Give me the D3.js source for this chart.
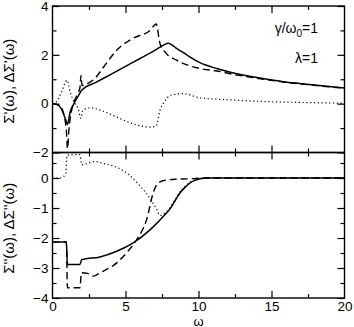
<!DOCTYPE html>
<html><head><meta charset="utf-8">
<script src="https://cdn.jsdelivr.net/npm/d3@7"></script>
<style>
body{margin:0;background:#fff;}
svg{display:block;font-family:"Liberation Sans",Arial,sans-serif;}
</style></head>
<body><svg id="c" width="354" height="327"></svg>
<script>
// ---- data ----
const xTicksMajor = [0, 5, 10, 15, 20];
const xTicksMinor = [2.5, 7.5, 12.5, 17.5];
const topTicksMajor = [-2, 0, 2, 4];
const topTicksMinor = [-1, 1, 3];
const botTicksMajor = [-4, -3, -2, -1, 0];
const botTicksMinor = [-3.5, -2.5, -1.5, -0.5, 0.5];

// top panel: Σ'(ω) solid, Σ'(ω) dashed, ΔΣ'(ω) dotted  [ω, value]
const reSolid = [[0,0],[0.38,-0.05],[0.65,-0.27],[0.92,-0.68],[1.03,-0.85],[1.2,-0.36],[1.47,0.0],[1.75,0.3],[2.0,0.55],[3,0.88],[4,1.2],[5,1.53],[6,1.85],[7,2.18],[7.6,2.4],[7.93,2.47],[8.2,2.4],[8.5,2.26],[9,2.08],[9.4,1.92],[10.1,1.68],[11.25,1.44],[12.4,1.26],[13.5,1.12],[14.7,1.0],[15.8,0.9],[17,0.82],[18.1,0.75],[20,0.64]];
const reDashed = [[0,0],[0.4,-0.05],[0.65,-0.2],[0.8,-0.5],[0.95,-1.1],[1.03,-1.84],[1.12,-1.1],[1.3,-0.3],[1.5,0.1],[1.75,0.45],[1.88,0.65],[1.95,1.16],[2.02,0.74],[2.3,0.8],[2.9,1.03],[3.5,1.5],[4.4,2.19],[5.5,2.67],[6.7,3.01],[7.1,3.26],[7.36,2.47],[7.7,2.12],[8.5,1.78],[10.1,1.44],[11.25,1.34],[12.4,1.2],[13.5,1.09],[14.7,0.98],[15.8,0.89],[17,0.81],[18.1,0.74],[20,0.63]];
const reDotted = [[0,0],[0.3,0.1],[0.6,0.45],[1.0,0.96],[1.2,0.5],[1.5,0.05],[1.75,-0.2],[1.95,-0.6],[2.05,-0.3],[2.3,-0.2],[2.6,-0.17],[3.2,-0.25],[4.4,-0.55],[5.5,-0.82],[6.7,-0.96],[7.1,-0.92],[7.36,-0.27],[7.7,0.1],[8.05,0.34],[8.96,0.41],[10.1,0.24],[12,0.16],[14,0.1],[17,0.05],[20,0.02]];

// bottom panel: Σ''(ω) solid, Σ''(ω) dashed, ΔΣ''(ω) dotted
const imSolid = [[0,-2.13],[0.95,-2.13],[1.02,-2.88],[1.88,-2.88],[2.0,-2.72],[3.25,-2.63],[4.4,-2.44],[5.53,-2.16],[6.7,-1.72],[7.82,-1.16],[8.05,-1.03],[8.4,-0.75],[8.73,-0.5],[9.1,-0.3],[9.42,-0.16],[9.8,-0.07],[10.2,-0.02],[10.6,0],[20,0]];
const imDashed = [[0,-2.13],[0.95,-2.13],[1.02,-3.66],[1.88,-3.66],[1.98,-3.16],[2.4,-3.18],[2.8,-3.27],[3.25,-3.16],[4.4,-2.83],[5.08,-2.49],[5.77,-2.05],[6.45,-1.38],[6.9,-0.49],[7.14,-0.22],[7.4,-0.12],[7.8,-0.07],[8.5,-0.04],[9.2,-0.03],[10,-0.01],[10.5,0],[20,0]];
const imDotted = [[0,0],[0.5,0],[0.9,0.12],[1.0,0.76],[1.88,0.78],[2.0,0.44],[2.9,0.55],[3.5,0.48],[4.4,0.36],[5.3,0.08],[6.0,-0.27],[6.68,-0.68],[7.14,-1.05],[7.36,-1.25],[7.6,-1.2],[7.82,-1.12],[8.4,-0.72],[8.73,-0.46],[9.1,-0.27],[9.42,-0.14],[10,-0.02],[10.5,0],[20,0]];

// ---- drawing ----
const svg = d3.select("#c");
const L = 52.5, R = 344.5, T = 6, M = 152.5, B = 298;
const x = d3.scaleLinear().domain([0, 20]).range([L, R]);
const yTop = d3.scaleLinear().domain([-2, 4]).range([M, T]);
const yBot = d3.scaleLinear().domain([-4, 0.85]).range([B, M]);
const FS = 13.5, MAJ = 7, MIN = 4;

function styleAxis(g){
  g.select(".domain").remove();
  g.selectAll(".tick line").attr("stroke","#000").attr("stroke-width",1.2);
  g.selectAll(".tick text").attr("font-size",FS).attr("fill","#000").attr("font-family","Liberation Sans, Arial, sans-serif");
}
function axes(y, major, minor, yTopPx, yBotPx, showX){
  svg.append("g").attr("transform",`translate(${L},0)`).call(d3.axisLeft(y).tickValues(major).tickSize(-MAJ).tickPadding(4).tickFormat(d3.format("d"))).call(styleAxis);
  svg.append("g").attr("transform",`translate(${L},0)`).call(d3.axisLeft(y).tickValues(minor).tickSize(-MIN).tickFormat("")).call(styleAxis);
  svg.append("g").attr("transform",`translate(${R},0)`).call(d3.axisRight(y).tickValues(major).tickSize(-MAJ).tickFormat("")).call(styleAxis);
  svg.append("g").attr("transform",`translate(${R},0)`).call(d3.axisRight(y).tickValues(minor).tickSize(-MIN).tickFormat("")).call(styleAxis);
  svg.append("g").attr("transform",`translate(0,${yTopPx})`).call(d3.axisTop(x).tickValues(xTicksMajor.slice(1,-1)).tickSize(-MAJ).tickFormat("")).call(styleAxis);
  svg.append("g").attr("transform",`translate(0,${yTopPx})`).call(d3.axisTop(x).tickValues(xTicksMinor).tickSize(-MIN).tickFormat("")).call(styleAxis);
  const ab = svg.append("g").attr("transform",`translate(0,${yBotPx})`).call(d3.axisBottom(x).tickValues(showX ? xTicksMajor : xTicksMajor.slice(1,-1)).tickSize(-MAJ).tickPadding(3).tickFormat(showX ? d3.format("d") : "")).call(styleAxis);
  ab.selectAll(".tick").filter(d => d === 0 || d === 20).select("line").remove();
  svg.append("g").attr("transform",`translate(0,${yBotPx})`).call(d3.axisBottom(x).tickValues(xTicksMinor).tickSize(-MIN).tickFormat("")).call(styleAxis);
}
axes(yTop, topTicksMajor, topTicksMinor, T, M, false);
axes(yBot, botTicksMajor, botTicksMinor, M, B, true);

const defs = svg.append("defs");
defs.append("clipPath").attr("id","clipT").append("rect").attr("x",L).attr("y",T).attr("width",R-L).attr("height",M-T);
defs.append("clipPath").attr("id","clipB").append("rect").attr("x",L).attr("y",M).attr("width",R-L).attr("height",B-M);

function drawLine(data, y, clip, dash, w){
  const line = d3.line().x(d => x(d[0])).y(d => y(d[1])).curve(d3.curveMonotoneX);
  svg.append("path").datum(data).attr("d",line).attr("fill","none").attr("stroke","#000")
    .attr("stroke-width",w).attr("stroke-dasharray",dash).attr("clip-path",`url(#${clip})`)
    .attr("stroke-linejoin","round");
}
drawLine(reDotted, yTop, "clipT", "1.2,2.6", 1.2);
drawLine(reDashed, yTop, "clipT", "7,4", 1.4);
drawLine(reSolid, yTop, "clipT", null, 1.5);
drawLine(imDotted, yBot, "clipB", "1.2,2.6", 1.2);
drawLine(imDashed, yBot, "clipB", "7,4", 1.4);
drawLine(imSolid, yBot, "clipB", null, 1.5);

svg.append("rect").attr("x",L).attr("y",T).attr("width",R-L).attr("height",M-T).attr("fill","none").attr("stroke","#000").attr("stroke-width",1.4);
svg.append("rect").attr("x",L).attr("y",M).attr("width",R-L).attr("height",B-M).attr("fill","none").attr("stroke","#000").attr("stroke-width",1.4);

const t1 = svg.append("text").attr("x",318).attr("y",33).attr("text-anchor","end").attr("font-size",14);
t1.append("tspan").text("γ/ω");
t1.append("tspan").attr("font-size",10).attr("dy",4).text("0");
t1.append("tspan").attr("dy",-4).text("=1");
svg.append("text").attr("x",318).attr("y",63).attr("text-anchor","end").attr("font-size",14).text("λ=1");

svg.append("text").attr("transform",`translate(14,${(T+M)/2 + 2}) rotate(-90)`).attr("text-anchor","middle").attr("font-size",15).text("Σ'(ω),  ΔΣ'(ω)");
svg.append("text").attr("transform",`translate(14,${(M+B)/2 + 3}) rotate(-90)`).attr("text-anchor","middle").attr("font-size",15).text("Σ''(ω),  ΔΣ''(ω)");
svg.append("text").attr("x",x(10)).attr("y",325.5).attr("text-anchor","middle").attr("font-size",13).text("ω");
</script></body></html>
